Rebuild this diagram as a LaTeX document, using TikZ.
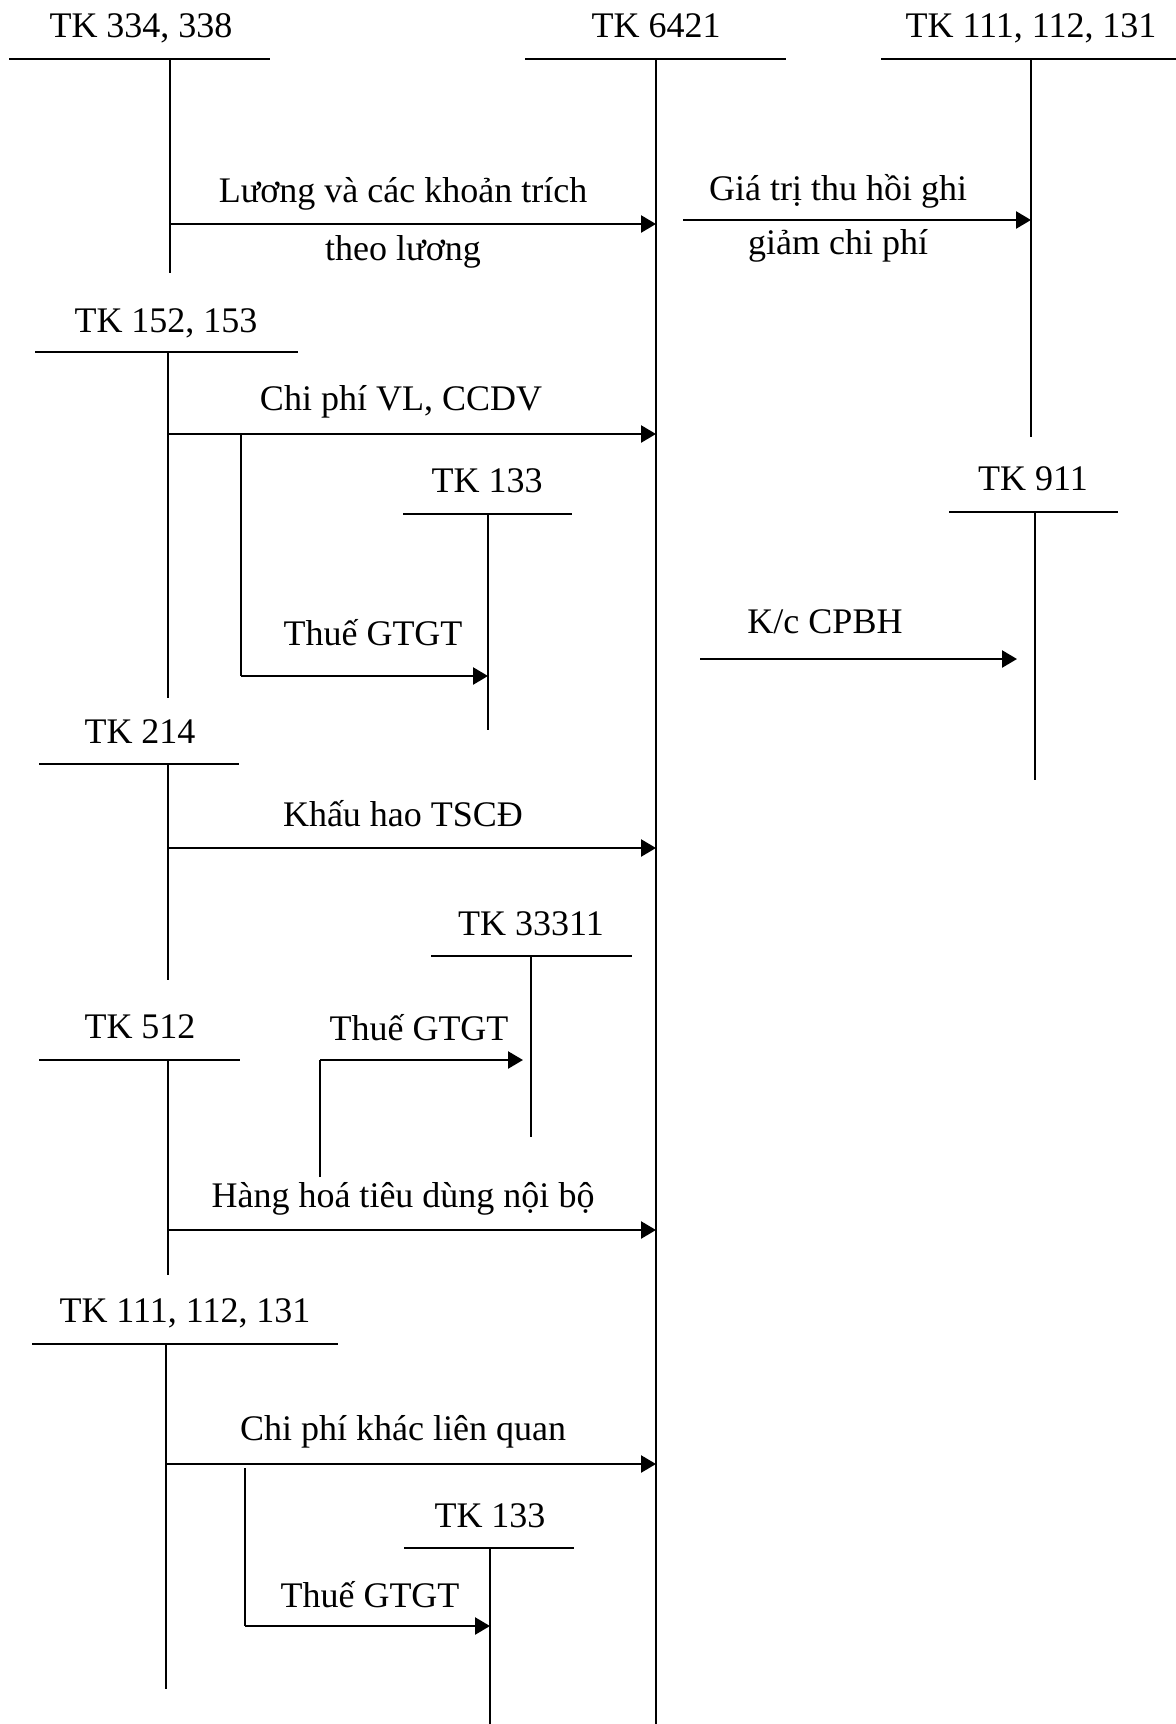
\documentclass[tikz,border=0pt]{standalone}
\usepackage{fontspec}
\setmainfont{Liberation Serif}
\usetikzlibrary{arrows.meta,positioning}

\begin{document}
\begin{tikzpicture}[
    x=0.5pt, y=-0.5pt,
    acct/.style={font=\fontsize{18}{22}\selectfont, anchor=base, inner sep=0pt},
    lbl/.style={font=\fontsize{18}{22}\selectfont, anchor=base, inner sep=0pt},
    bar/.style={line width=1.1pt},
    side/.style={line width=0.9pt},
    arrow/.style={-{Triangle[length=7.5pt,width=8.5pt]}, line width=1.25pt}
]
    \useasboundingbox (0,0) rectangle (1176,1724);

    % Accounts (head + bar + side)
    \node[acct] (h334) at (141,37) {TK 334, 338};
    \draw[bar] (9,59) -- (270,59);
    \coordinate (v334) at (170,59);
    \draw[side] (v334) -- (170,273);

    \node[acct] (h6421) at (656,37) {TK 6421};
    \draw[bar] (525,59) -- (786,59);
    \coordinate (v6421) at (656,59);
    \draw[side] (v6421) -- (656,1724);

    \node[acct] (h111a) at (1031,37) {TK 111, 112, 131};
    \draw[bar] (881,59) -- (1176,59);
    \coordinate (v111a) at (1031,59);
    \draw[side] (v111a) -- (1031,437);

    \node[acct] (h152) at (166,332) {TK 152, 153};
    \draw[bar] (35,352) -- (298,352);
    \coordinate (v152) at (168,352);
    \draw[side] (v152) -- (168,698);

    \node[acct] (h133a) at (487,492) {TK 133};
    \draw[bar] (403,514) -- (572,514);
    \coordinate (v133a) at (488,514);
    \draw[side] (v133a) -- (488,730);

    \node[acct] (h911) at (1033,490) {TK 911};
    \draw[bar] (949,512) -- (1118,512);
    \coordinate (v911) at (1035,512);
    \draw[side] (v911) -- (1035,780);

    \node[acct] (h214) at (140,743) {TK 214};
    \draw[bar] (39,764) -- (239,764);
    \coordinate (v214) at (168,764);
    \draw[side] (v214) -- (168,980);

    \node[acct] (h33311) at (531,935) {TK 33311};
    \draw[bar] (431,956) -- (632,956);
    \coordinate (v33311) at (531,956);
    \draw[side] (v33311) -- (531,1137);

    \node[acct] (h512) at (140,1038) {TK 512};
    \draw[bar] (39,1060) -- (240,1060);
    \coordinate (v512) at (168,1060);
    \draw[side] (v512) -- (168,1275);

    \node[acct] (h111b) at (185,1322) {TK 111, 112, 131};
    \draw[bar] (32,1344) -- (338,1344);
    \coordinate (v111b) at (166,1344);
    \draw[side] (v111b) -- (166,1689);

    \node[acct] (h133b) at (490,1527) {TK 133};
    \draw[bar] (404,1548) -- (574,1548);
    \coordinate (v133b) at (490,1548);
    \draw[side] (v133b) -- (490,1724);

    % Arrows
    \draw[arrow] (v334 |- 0,224) -- (v6421 |- 0,224);
    \node[lbl] (luong1) at (403,202) {Lương và các khoản trích};
    \node[lbl] (luong2) at (403,260) {theo lương};

    \coordinate (thuhoi) at (683,220);
    \draw[arrow] (thuhoi) -- (v111a |- thuhoi);
    \node[lbl] (giatri1) at (838,200) {Giá trị thu hồi ghi};
    \node[lbl] (giatri2) at (838,254) {giảm chi phí};

    \draw[arrow] (v152 |- 0,434) -- (v6421 |- 0,434);
    \node[lbl] (vl) at (401,410) {Chi phí VL, CCDV};
    \coordinate (b1a) at (241,434);
    \coordinate (b1b) at (241,676);
    \draw[side] (b1a) -- (b1b);
    \draw[arrow] (b1b) -- (v133a |- b1b);
    \node[lbl] (thue1) at (373,645) {Thuế GTGT};

    \coordinate (kc) at (700,659);
    \draw[arrow, shorten >=9pt] (kc) -- (v911 |- kc);
    \node[lbl] (kcl) at (825,633) {K/c CPBH};

    \draw[arrow] (v214 |- 0,848) -- (v6421 |- 0,848);
    \node[lbl] (khauhao) at (403,826) {Khấu hao TSCĐ};

    \coordinate (b2a) at (320,1177);
    \coordinate (b2b) at (320,1060);
    \draw[side] (b2a) -- (b2b);
    \draw[arrow, shorten >=4pt] (b2b) -- (v33311 |- b2b);
    \node[lbl] (thue2) at (419,1040) {Thuế GTGT};

    \draw[arrow] (v512 |- 0,1230) -- (v6421 |- 0,1230);
    \node[lbl] (hanghoa) at (403,1207) {Hàng hoá tiêu dùng nội bộ};

    \draw[arrow] (v111b |- 0,1464) -- (v6421 |- 0,1464);
    \node[lbl] (khac) at (403,1440) {Chi phí khác liên quan};
    \coordinate (b3a) at (245,1468);
    \coordinate (b3b) at (245,1626);
    \draw[side] (b3a) -- (b3b);
    \draw[arrow] (b3b) -- (v133b |- b3b);
    \node[lbl] (thue3) at (370,1607) {Thuế GTGT};

\end{tikzpicture}
\end{document}
